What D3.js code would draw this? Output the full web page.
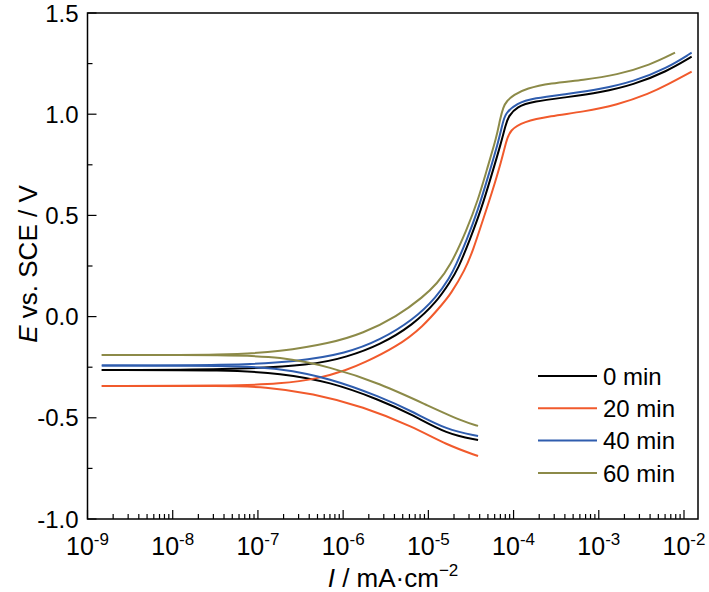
<!DOCTYPE html>
<html>
<head>
<meta charset="utf-8">
<script src="https://cdn.jsdelivr.net/npm/d3@7"></script>
<style>
  body { margin: 0; background: #fff; }
  text { font-family: "Liberation Sans", Arial, sans-serif; fill: #000; }
</style>
</head>
<body>
<div class="container"></div>
<script>
const WIDTH = 709;
const HEIGHT = 592;
const LEFT = 87.5, RIGHT = 698, TOP = 13, BOTTOM = 519;

// data: [current in mA/cm2, potential in V]
const seriesNames = ["0 min", "20 min", "40 min", "60 min"];
const seriesColors = ["#000000", "#F15A2C", "#2F5DAE", "#8C8A48"];

const cathodic0 = [[1.47e-9, -0.264], [4.71e-8, -0.264], [1.82e-7, -0.280], [7.02e-7, -0.322],
  [2.71e-6, -0.412], [6.61e-6, -0.486], [1.64e-5, -0.580], [3.83e-5, -0.610]];
const anodic0 = [[1.47e-9, -0.264], [4.71e-8, -0.262], [4.44e-7, -0.240], [1.10e-6, -0.200],
  [2.71e-6, -0.140], [6.61e-6, -0.041], [1.26e-5, 0.074], [1.80e-5, 0.172], [2.23e-5, 0.235],
  [3.06e-5, 0.378], [4.15e-5, 0.527], [5.45e-5, 0.691], [7.14e-5, 0.858], [8.04e-5, 0.945],
  [8.71e-5, 0.990], [1.09e-4, 1.038], [1.71e-4, 1.063], [4.21e-4, 1.084], [1.04e-3, 1.107],
  [2.55e-3, 1.145], [6.28e-3, 1.211], [1.23e-2, 1.284]];

const cathodic20 = [[1.47e-9, -0.343], [4.71e-8, -0.343], [1.15e-7, -0.346], [4.44e-7, -0.379],
  [1.71e-6, -0.445], [6.61e-6, -0.544], [1.64e-5, -0.634], [3.83e-5, -0.689]];
const anodic20 = [[1.47e-9, -0.343], [4.71e-8, -0.342], [1.82e-7, -0.333], [5.36e-7, -0.305],
  [1.10e-6, -0.264], [1.71e-6, -0.231], [4.26e-6, -0.149], [8.67e-6, -0.050], [1.49e-5, 0.066],
  [1.80e-5, 0.107], [2.70e-5, 0.230], [3.39e-5, 0.335], [4.24e-5, 0.461], [5.55e-5, 0.609],
  [7.26e-5, 0.774], [8.17e-5, 0.865], [9.10e-5, 0.922], [1.30e-4, 0.963], [2.68e-4, 0.991],
  [6.59e-4, 1.012], [1.63e-3, 1.045], [4.00e-3, 1.103], [6.28e-3, 1.144], [1.23e-2, 1.210]];

const cathodic40 = [[1.47e-9, -0.242], [4.71e-8, -0.242], [1.82e-7, -0.255], [7.02e-7, -0.305],
  [2.71e-6, -0.396], [6.61e-6, -0.470], [1.64e-5, -0.560], [3.83e-5, -0.590]];
const anodic40 = [[1.47e-9, -0.242], [4.71e-8, -0.241], [2.85e-7, -0.223], [1.10e-6, -0.181],
  [2.71e-6, -0.116], [6.61e-6, -0.017], [1.26e-5, 0.098], [1.80e-5, 0.197], [2.06e-5, 0.245],
  [2.82e-5, 0.378], [3.83e-5, 0.527], [5.02e-5, 0.691], [6.58e-5, 0.858], [7.41e-5, 0.950],
  [7.94e-5, 1.004], [1.09e-4, 1.054], [1.71e-4, 1.079], [4.21e-4, 1.100], [1.04e-3, 1.123],
  [2.55e-3, 1.161], [6.28e-3, 1.227], [1.23e-2, 1.304]];

const cathodic60 = [[1.47e-9, -0.190], [4.71e-8, -0.190], [1.82e-7, -0.198], [7.02e-7, -0.248],
  [2.71e-6, -0.330], [1.05e-5, -0.445], [2.58e-5, -0.519], [3.83e-5, -0.540]];
const anodic60 = [[1.47e-9, -0.190], [4.71e-8, -0.190], [1.82e-7, -0.173], [7.02e-7, -0.132],
  [1.71e-6, -0.083], [4.26e-6, 0.000], [8.75e-6, 0.098], [1.26e-5, 0.163], [1.80e-5, 0.247],
  [2.82e-5, 0.428], [3.83e-5, 0.576], [4.84e-5, 0.724], [6.35e-5, 0.889], [6.93e-5, 0.975],
  [7.59e-5, 1.037], [8.32e-5, 1.065], [9.95e-5, 1.095], [1.43e-4, 1.128], [2.68e-4, 1.153],
  [6.59e-4, 1.169], [1.63e-3, 1.194], [4.00e-3, 1.243], [7.85e-3, 1.304]];

const cathodicData = [cathodic0, cathodic20, cathodic40, cathodic60];
const anodicData = [anodic0, anodic20, anodic40, anodic60];

const xExponents = [-9, -8, -7, -6, -5, -4, -3, -2];
const yTicks = [-1.0, -0.5, 0.0, 0.5, 1.0, 1.5];
const yMinorTicks = [-0.75, -0.25, 0.25, 0.75, 1.25];

var xScale = d3.scaleLog()
    .domain([1e-9, 0.0146])
    .range([LEFT, RIGHT]);

var yScale = d3.scaleLinear()
    .domain([-1.0, 1.5])
    .range([BOTTOM, TOP]);

var svg = d3.select('.container').append('svg')
    .attr('width', WIDTH)
    .attr('height', HEIGHT);

// curves
var line = d3.line()
    .x(function(d){ return xScale(d[0]); })
    .y(function(d){ return yScale(d[1]); })
    .curve(d3.curveBasis);

var curves = svg.append('g');
for (var i = 0; i < seriesNames.length; i++) {
    [cathodicData[i], anodicData[i]].forEach(function(branch){
        curves.append('path')
            .datum(branch)
            .attr('d', line)
            .attr('fill', 'none')
            .attr('stroke', seriesColors[i])
            .attr('stroke-width', 2);
    });
}

// frame
svg.append('rect')
    .attr('x', LEFT).attr('y', TOP)
    .attr('width', RIGHT - LEFT).attr('height', BOTTOM - TOP)
    .attr('fill', 'none').attr('stroke', '#000').attr('stroke-width', 1.5);

// ticks, all pointing inwards
var xMinor = [];
xExponents.forEach(function(e){
    for (var m = 2; m <= 9; m++) {
        var v = m * Math.pow(10, e);
        if (v < xScale.domain()[1]) xMinor.push(v);
    }
});
var ticks = svg.append('g').attr('stroke', '#000').attr('stroke-width', 1.2);
xExponents.forEach(function(e){
    var x = xScale(Math.pow(10, e));
    ticks.append('line').attr('x1', x).attr('x2', x).attr('y1', BOTTOM).attr('y2', BOTTOM - 9);
});
xMinor.forEach(function(v){
    var x = xScale(v);
    ticks.append('line').attr('x1', x).attr('x2', x).attr('y1', BOTTOM).attr('y2', BOTTOM - 5);
});
yTicks.forEach(function(v){
    var y = yScale(v);
    ticks.append('line').attr('x1', LEFT).attr('x2', LEFT + 9).attr('y1', y).attr('y2', y);
});
yMinorTicks.forEach(function(v){
    var y = yScale(v);
    ticks.append('line').attr('x1', LEFT).attr('x2', LEFT + 5).attr('y1', y).attr('y2', y);
});

// tick labels
xExponents.forEach(function(e){
    var t = svg.append('text')
        .attr('x', xScale(Math.pow(10, e)))
        .attr('y', 555)
        .attr('text-anchor', 'middle')
        .style('font-size', '25px');
    t.append('tspan').text('10');
    t.append('tspan').attr('dy', -10).style('font-size', '17px').text(String(e));
});
yTicks.forEach(function(v){
    svg.append('text')
        .attr('x', LEFT - 9)
        .attr('y', yScale(v))
        .attr('dy', '0.36em')
        .attr('text-anchor', 'end')
        .style('font-size', '24px')
        .text(v.toFixed(1));
});

// axis titles
var xt = svg.append('text')
    .attr('x', 393).attr('y', 587)
    .attr('text-anchor', 'middle')
    .style('font-size', '26px');
xt.append('tspan').style('font-style', 'italic').text('I');
xt.append('tspan').text(' / mA\u00b7cm');
xt.append('tspan').attr('dy', -11).style('font-size', '17px').text('\u22122');

var yt = svg.append('text')
    .attr('transform', 'translate(37,264) rotate(-90)')
    .attr('text-anchor', 'middle')
    .style('font-size', '26px');
yt.append('tspan').style('font-style', 'italic').text('E');
yt.append('tspan').text(' vs. SCE / V');

// legend
var legend = svg.append('g');
seriesNames.forEach(function(name, i){
    var y = 376 + i * 32.3;
    legend.append('line')
        .attr('x1', 538).attr('x2', 597).attr('y1', y).attr('y2', y)
        .attr('stroke', seriesColors[i]).attr('stroke-width', 2);
    legend.append('text')
        .attr('x', 603).attr('y', y).attr('dy', '0.36em')
        .style('font-size', '24px')
        .text(name);
});
</script>
</body>
</html>
